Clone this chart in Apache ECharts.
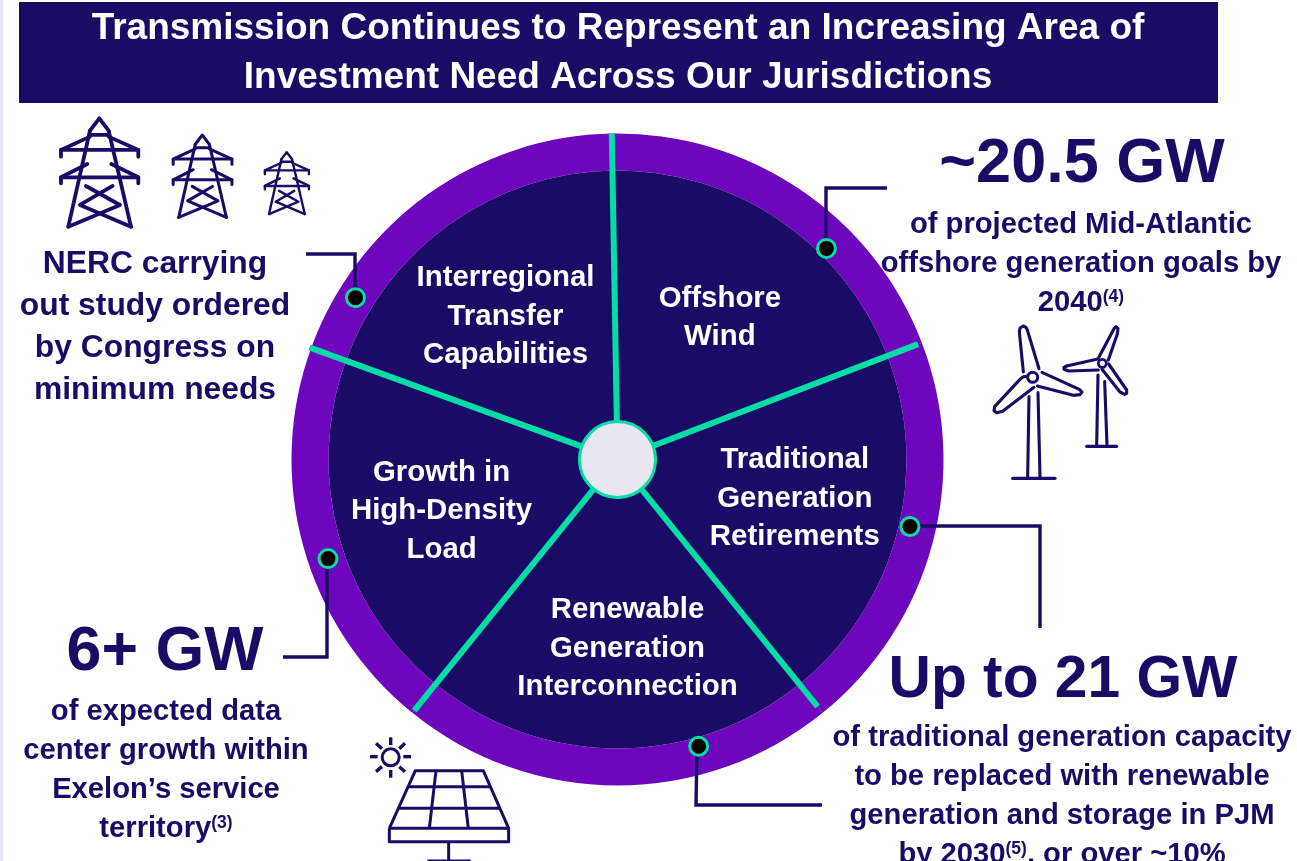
<!DOCTYPE html>
<html>
<head>
<meta charset="utf-8">
<style>
  html, body { margin: 0; padding: 0; background: #fff; }
  #main { width: 1297px; height: 861px; }
</style>
<script src="https://cdn.jsdelivr.net/npm/echarts@6/dist/echarts.min.js"></script>
</head>
<body>
<div id="main"></div>
<script>
// sectors, clockwise from the top spoke. values are the sector widths, in degrees
const categories = [
  'Offshore\nWind',
  'Traditional\nGeneration\nRetirements',
  'Renewable\nGeneration\nInterconnection',
  'Growth in\nHigh-Density\nLoad',
  'Interregional\nTransfer\nCapabilities',
];
const sectorValues = [70, 72, 78, 71, 69];
const labelOffsets = [[9, -3], [16, -4], [10, 22], [-15, 7], [-15, -7]];
// how far out each spoke reaches, starting with the top one
const spokeEnds = [326, 322, 318, 323, 328];

// callout dots on the ring: [radius, degrees clockwise from the top spoke]
const calloutDots = [
  [297, 45.7],
  [300, 103.9],
  [298, 165.2],
  [306, 252.1],
  [308, 302.7],
];

const titleLines = [
  'Transmission Continues to Represent an Increasing Area of',
  'Investment Need Across Our Jurisdictions',
];
const nercLines = ['NERC carrying', 'out study ordered', 'by Congress on', 'minimum needs'];
const offshoreLines = ['of projected Mid-Atlantic', 'offshore generation goals by', '2040{sup|(4)}'];
const dataCenterLines = ['of expected data', 'center growth within', 'Exelon\u2019s service', 'territory{sup|(3)}'];
const retireLines = [
  'of traditional generation capacity',
  'to be replaced with renewable',
  'generation and storage in PJM',
  'by 2030{sup|(5)}, or over ~10%',
];

const NAVY = '#190b66';
const PURPLE = '#6e06be';
const TEAL = '#05dca6';
const HUB = '#e8e6f0';
const FONT = '"Liberation Sans", Arial, sans-serif';
const CENTER = [617.5, 459.5];

var myChart = echarts.init(document.getElementById('main'), null, { renderer: 'canvas' });

function textItem(text, x, y, size, color) {
  return {
    type: 'text',
    x: x,
    y: y,
    z: 12,
    silent: true,
    style: {
      text: text,
      fill: color || NAVY,
      font: 'bold ' + size + 'px ' + FONT,
      align: 'center',
      verticalAlign: 'middle',
      rich: {
        sup: { fontSize: size * 0.6, fontWeight: 'bold', fontFamily: FONT, fill: color || NAVY, verticalAlign: 'top', padding: [0, 0, 10, 0] },
      },
    },
  };
}

function textBlock(lines, x, y, step, size) {
  return lines.map(function (line, i) {
    return textItem(line, x, y + i * step, size);
  });
}

function callout(points) {
  return {
    type: 'polyline',
    z: 10,
    silent: true,
    shape: { points: points },
    style: { stroke: NAVY, lineWidth: 3.4, fill: null },
  };
}

// icons are traced in 3x crop units, then scaled down to page pixels
function icon(x, y, scale, lines, lineWidth, lineCap) {
  return lines.map(function (points) {
    return {
      type: 'polyline',
      silent: true,
      z: 1,
      shape: {
        points: points.map(function (p) {
          return [x + p[0] * scale / 3, y + p[1] * scale / 3];
        }),
      },
      style: { stroke: NAVY, lineWidth: lineWidth, fill: null, lineJoin: 'round', lineCap: lineCap || 'round' },
    };
  });
}

const towerLines = [
  [[-28, 37], [0, 0], [28, 37]],
  [[-28, 37], [-93, 325]],
  [[28, 37], [95, 325]],
  [[-28, 50], [28, 50]],
  [[-28, 55], [-115, 95], [-115, 115]],
  [[-115, 95], [117, 95], [117, 115]],
  [[28, 55], [117, 95]],
  [[-36, 137], [-115, 177], [-115, 195]],
  [[-115, 177], [117, 177], [117, 195]],
  [[36, 137], [117, 177]],
  [[-40, 203], [62, 260], [-93, 325]],
  [[40, 203], [-58, 260], [95, 325]],
];

const turbineLines = [
  [[190, 186], [178, 65], [180, 54], [190, 48], [198, 52], [202, 60], [237, 176]],
  [[246, 187], [358, 238], [366, 246], [360, 254], [340, 256], [232, 228]],
  [[204, 198], [190, 200], [182, 206], [104, 290], [102, 302], [110, 308], [128, 304], [222, 232]],
  [[207, 260], [203, 500]],
  [[234, 248], [240, 500]],
  [[158, 505], [285, 505]],
  [[415, 145], [462, 56], [468, 50], [474, 56], [472, 72], [445, 150]],
  [[410, 148], [320, 168], [312, 172], [312, 178], [326, 183], [415, 180]],
  [[446, 162], [500, 240], [500, 250], [494, 253], [480, 246], [426, 178]],
  [[414, 195], [410, 405]],
  [[434, 215], [441, 405]],
  [[380, 409], [470, 409]],
];

const solarLines = [
  [[148, 325], [226, 152], [430, 152], [506, 325]],
  [[148, 325], [506, 325], [506, 365], [148, 365], [148, 325]],
  [[205, 200], [450, 200]],
  [[175, 265], [477, 265]],
  [[288, 152], [268, 325]],
  [[365, 152], [385, 325]],
  [[326, 365], [326, 423]],
  [[262, 423], [392, 423]],
];

const sunLines = [
  [[152, 52], [152, 75]],
  [[152, 150], [152, 173]],
  [[90, 110], [113, 110]],
  [[190, 110], [213, 110]],
  [[108, 70], [126, 86]],
  [[195, 70], [178, 86]],
  [[108, 155], [126, 140]],
  [[195, 155], [178, 140]],
];

function iconCircle(x, y, r, lineWidth) {
  return {
    type: 'circle',
    silent: true,
    z: 2,
    shape: { cx: x, cy: y, r: r },
    style: { stroke: NAVY, lineWidth: lineWidth, fill: '#fff' },
  };
}

// spokes run along the sector edges
var cumulative = 0;
const spokeSeries = sectorValues.map(function (v, i) {
  const angle = cumulative;
  cumulative += v;
  return {
    type: 'line',
    coordinateSystem: 'polar',
    silent: true,
    z: 4,
    symbol: 'none',
    lineStyle: { color: TEAL, width: 6 },
    data: [[39, angle], [spokeEnds[i], angle]],
  };
});

const sectorData = categories.map(function (name, i) {
  return { name: name, value: sectorValues[i] };
});

var option = {
  animation: false,
  backgroundColor: '#fff',
  polar: { center: CENTER, radius: 328 },
  angleAxis: { type: 'value', min: 0, max: 360, startAngle: 91, show: false },
  radiusAxis: { type: 'value', min: 0, max: 328, show: false },
  series: [
    {
      name: 'ring',
      type: 'pie',
      silent: true,
      z: 2,
      center: CENTER,
      radius: [289, 326],
      startAngle: 91,
      label: { show: false },
      labelLine: { show: false },
      itemStyle: { color: PURPLE },
      data: sectorData,
    },
    {
      name: 'sectors',
      type: 'pie',
      silent: true,
      z: 3,
      center: CENTER,
      radius: [39, 289],
      startAngle: 91,
      avoidLabelOverlap: false,
      itemStyle: { color: NAVY },
      labelLine: { show: false },
      label: {
        show: true,
        position: 'inside',
        formatter: '{b}',
        color: '#fff',
        fontFamily: FONT,
        fontWeight: 'bold',
        fontSize: 29.4,
        lineHeight: 38.5,
      },
      labelLayout: function (params) {
        return { dx: labelOffsets[params.dataIndex][0], dy: labelOffsets[params.dataIndex][1] };
      },
      data: sectorData,
    },
    ...spokeSeries,
    {
      name: 'hub',
      type: 'pie',
      silent: true,
      z: 5,
      center: CENTER,
      radius: [0, 38],
      label: { show: false },
      labelLine: { show: false },
      itemStyle: { color: HUB, borderColor: TEAL, borderWidth: 3 },
      data: [{ value: 1 }],
    },
    {
      name: 'callouts',
      type: 'scatter',
      coordinateSystem: 'polar',
      silent: true,
      z: 20,
      symbolSize: 18,
      itemStyle: { color: '#000', borderColor: TEAL, borderWidth: 3, opacity: 1 },
      data: calloutDots,
    },
  ],
  graphic: {
    elements: [
      { type: 'rect', silent: true, shape: { x: 0, y: 0, width: 3, height: 861 }, style: { fill: HUB } },
      { type: 'rect', silent: true, shape: { x: 19, y: 2, width: 1199, height: 101 }, style: { fill: NAVY } },
      ...titleLines.map(function (line, i) {
        return textItem(line, 618, 29 + i * 49, 37, '#fff');
      }),

      callout([[826, 248], [826, 188], [887, 188]]),
      callout([[355, 297], [355, 254], [306, 254]]),
      callout([[909, 526], [1040, 526], [1040, 628]]),
      callout([[327, 558], [327, 657], [283, 657]]),
      callout([[697, 746], [696, 805], [822, 805]]),

      textItem('~20.5 GW', 1082, 165, 63),
      ...textBlock(offshoreLines, 1081, 225, 39, 29.2),
      ...textBlock(nercLines, 155, 264, 42, 31.8),
      textItem('6+ GW', 165, 653, 62.7),
      ...textBlock(dataCenterLines, 166, 712, 39, 29.2),
      textItem('Up to 21 GW', 1063, 681, 58.7),
      ...textBlock(retireLines, 1062, 738, 39, 29.2),

      ...icon(99.3, 118.3, 1, towerLines, 3.8),
      ...icon(202.3, 135, 0.76, towerLines, 3),
      ...icon(286.7, 152.3, 0.57, towerLines, 2.4),

      ...icon(960, 310, 1, turbineLines, 3.1),
      iconCircle(960 + 218 / 3, 310 + 202 / 3, 5, 3),
      iconCircle(960 + 427 / 3, 310 + 160 / 3, 4, 2.8),

      ...icon(340, 720, 1, solarLines, 3, 'butt'),
      ...icon(340, 720, 1, sunLines, 3.4, 'butt'),
      iconCircle(340 + 152 / 3, 720 + 112 / 3, 8.5, 3),
    ],
  },
};

option && myChart.setOption(option);
</script>
</body>
</html>
